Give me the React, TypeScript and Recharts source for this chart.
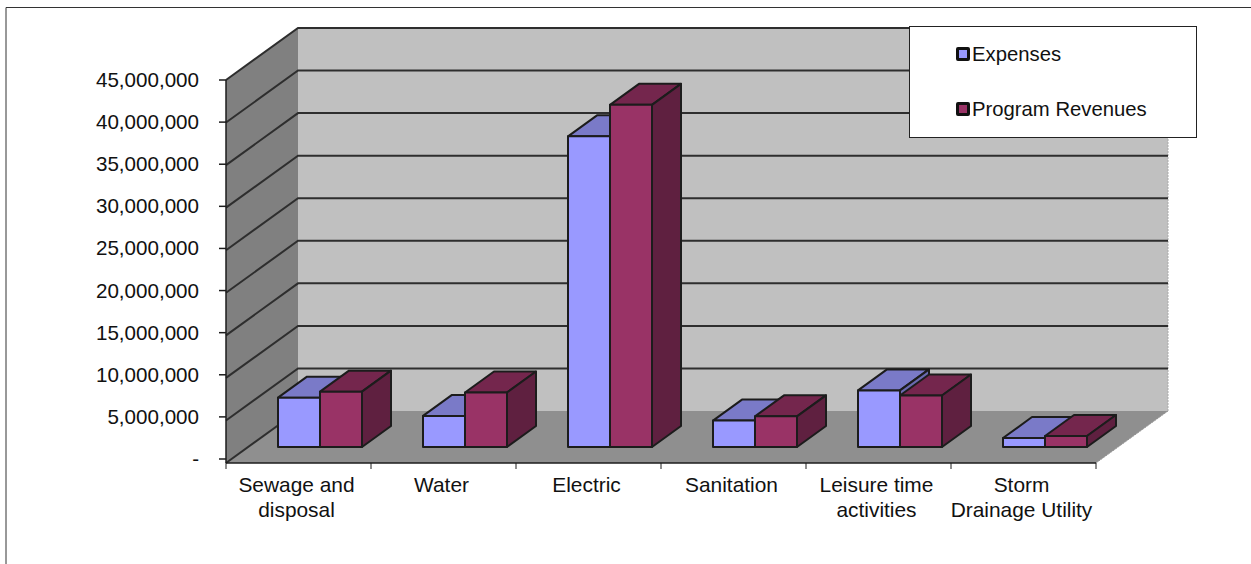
import React from 'react';
import { BarChart, Bar, XAxis, YAxis, CartesianGrid, Legend } from 'recharts';

const categories = ['Sewage and|disposal', 'Water', 'Electric', 'Sanitation', 'Leisure time|activities', 'Storm|Drainage Utility'];
const expenses = [5800000, 3650000, 36500000, 3100000, 6650000, 1050000];
const programRevenues = [6500000, 6400000, 40200000, 3600000, 6050000, 1300000];
const yTicks = [0, 5000000, 10000000, 15000000, 20000000, 25000000, 30000000, 35000000, 40000000, 45000000];

const chartData = categories.map((name, i) => ({ name, expenses: expenses[i], programRevenues: programRevenues[i] }));

const FONT = '"Liberation Sans", Arial, sans-serif';
const INK = '#1c1c1c';
// front plane of the plot
const L = 226;
const R = 1096;
const T = 80;
const B = 463;
// the axis ticks stop a little short of the floor corner
const TICK_SHRINK = 4;
// depth of the whole room and how far the bars sit inside it
const ROOM_DX = 72;
const ROOM_DY = 52;
const BAR_DX = 21;
const BAR_DY = 16;
const BAR_DEPTH_X = 29;
const BAR_DEPTH_Y = 21;

const pts = (list: number[][]) => list.map(p => p.join(',')).join(' ');

// side wall, back wall and floor, sits under the chart svg
const Room = () => (
  <svg width={1251} height={564} style={{ position: 'absolute', left: 0, top: 0 }}>
    <polyline points={pts([[6, 564], [6, 7.5], [1251, 7.5]])} fill="none" stroke="#333" strokeWidth={1} />
    <polygon points={pts([[L + ROOM_DX, T - ROOM_DY], [R + ROOM_DX, T - ROOM_DY], [R + ROOM_DX, B - ROOM_DY], [L + ROOM_DX, B - ROOM_DY]])} fill="#c0c0c0" />
    <polygon points={pts([[L, T], [L + ROOM_DX, T - ROOM_DY], [L + ROOM_DX, B - ROOM_DY], [L, B]])} fill="#808080" />
    <polygon points={pts([[L, B], [L + ROOM_DX, B - ROOM_DY], [R + ROOM_DX, B - ROOM_DY], [R, B]])} fill="#8f8f8f" />
    <line x1={R} y1={B} x2={R + ROOM_DX} y2={B - ROOM_DY} stroke="#999" strokeWidth={1} strokeDasharray="2 1" />
    <line x1={R + ROOM_DX} y1={T - ROOM_DY} x2={R + ROOM_DX} y2={B - ROOM_DY} stroke="#aaa" strokeWidth={1} strokeDasharray="2 1" />
  </svg>
);

const WallLine = (props: any) => {
  const { x1, x2, y1 } = props;
  const isFloor = y1 > B - 3;
  return (
    <polyline
      points={pts([[x1, y1], [x1 + ROOM_DX, y1 - ROOM_DY], ...(isFloor ? [] : [[x2 + ROOM_DX, y1 - ROOM_DY]])])}
      fill="none"
      stroke="#2e2e2e"
      strokeWidth={2}
    />
  );
};

const Box = (props: any) => {
  const { x, y, width, height, fill, top, side } = props;
  const fx = x + BAR_DX;
  const fy = y - BAR_DY;
  const fr = fx + width;
  const fb = fy + height;
  const edge = { stroke: INK, strokeWidth: 2, strokeLinejoin: 'round' as const };
  return (
    <g>
      <polygon points={pts([[fx, fy], [fx + BAR_DEPTH_X, fy - BAR_DEPTH_Y], [fr + BAR_DEPTH_X, fy - BAR_DEPTH_Y], [fr, fy]])} fill={top} {...edge} />
      <polygon points={pts([[fr, fy], [fr + BAR_DEPTH_X, fy - BAR_DEPTH_Y], [fr + BAR_DEPTH_X, fb - BAR_DEPTH_Y], [fr, fb]])} fill={side} {...edge} />
      <rect x={fx} y={fy} width={width} height={height} fill={fill} {...edge} />
    </g>
  );
};

const CategoryTick = (props: any) => {
  const { x, y, payload, band } = props;
  const lines = String(payload.value).split('|');
  const isLast = payload.index === categories.length - 1;
  return (
    <g>
      <line x1={x - band / 2} y1={B} x2={x - band / 2} y2={B + 6} stroke={INK} />
      {isLast && <line x1={x + band / 2} y1={B} x2={x + band / 2} y2={B + 6} stroke={INK} />}
      <text x={x - 2} y={y + 20.5} textAnchor="middle" fontFamily={FONT} fontSize={20.9} fill="#111">
        {lines.map((line, i) => (
          <tspan key={line} x={x - 2} dy={i === 0 ? 0 : 25}>{line}</tspan>
        ))}
      </text>
    </g>
  );
};

const ValueTick = (props: any) => {
  const { y, payload } = props;
  const ty = y - ((y - T) / (B - T)) * TICK_SHRINK;
  return (
    <g>
      <line x1={L - 7} y1={ty} x2={L} y2={ty} stroke={INK} strokeWidth={1.5} />
      <text x={199} y={ty + 7} textAnchor="end" fontFamily={FONT} fontSize={20.6} fill="#111">
        {payload.value === 0 ? '-' : payload.value.toLocaleString('en-US')}
      </text>
    </g>
  );
};

const LegendBox = ({ payload }: any) => (
  <div style={{ width: 286, height: 110, background: '#fff', border: '1.5px solid #222', position: 'relative', fontFamily: FONT, fontSize: 20.3, color: '#111' }}>
    {(payload || []).map((entry: any, i: number) => (
      <div key={entry.value} style={{ position: 'absolute', left: 46, top: 15 + i * 55, lineHeight: '24px', whiteSpace: 'nowrap', display: 'flex', alignItems: 'center' }}>
        <span style={{ width: 8, height: 8, background: entry.color, border: '3px solid #111', borderRadius: 2, marginRight: 2 }} />
        {entry.value}
      </div>
    ))}
  </div>
);

const App = () => {
  const band = (R - L) / categories.length;
  return (
    <div style={{ position: 'absolute', left: 0, top: 0, width: 1251, height: 564 }}>
      <Room />
      <div style={{ position: 'absolute', left: 0, top: 0 }}>
        <BarChart
          width={1251}
          height={564}
          data={chartData}
          margin={{ top: T, right: 1251 - R, bottom: 564 - B - 60, left: L - 100 }}
          barSize={42}
          barGap={0}
        >
          <CartesianGrid vertical={false} horizontal={WallLine} />
          <XAxis dataKey="name" height={60} interval={0} tickLine={false} axisLine={{ stroke: INK, strokeWidth: 1.5 }} tick={<CategoryTick band={band} />} />
          <YAxis
            width={100}
            domain={[0, 45000000]}
            ticks={yTicks}
            interval={0}
            tickLine={false}
            axisLine={{ stroke: INK, strokeWidth: 1.5 }}
            tick={<ValueTick />}
          />
          <Legend
            layout="vertical"
            align="center"
            verticalAlign="middle"
            content={<LegendBox />}
            wrapperStyle={{ left: 909, top: 26, width: 288, height: 112 }}
          />
          <Bar dataKey="expenses" name="Expenses" fill="#9999ff" isAnimationActive={false} shape={<Box top="#7a7ac8" side="#6a6ab0" />} />
          <Bar dataKey="programRevenues" name="Program Revenues" fill="#993366" isAnimationActive={false} shape={<Box top="#74264d" side="#5f2040" />} />
        </BarChart>
      </div>
    </div>
  );
};

export default App;
